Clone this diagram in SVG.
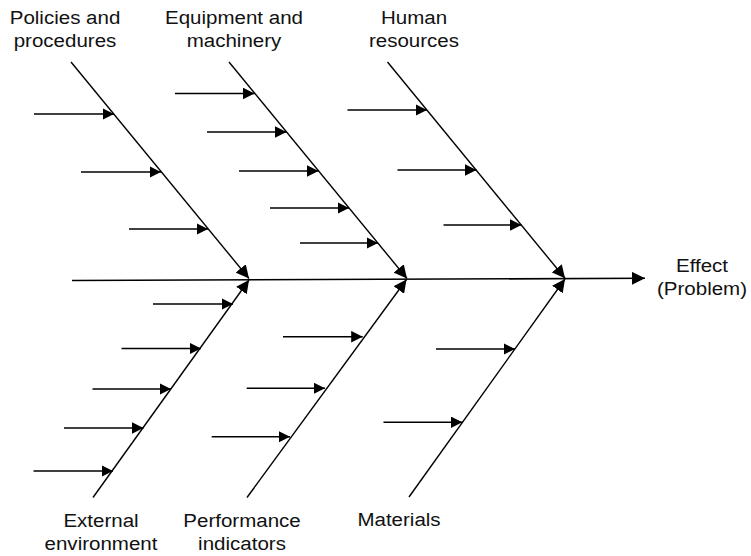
<svg xmlns="http://www.w3.org/2000/svg" width="751" height="556" viewBox="0 0 751 556">
  <style>
    .bone { stroke: #000; stroke-width: 1.4; fill: none; }
    .spine { stroke-width: 1.6; }
    .main { marker-end: url(#headL); }
    .sub { marker-end: url(#headS); }
    .label { font-family: "Liberation Sans", Arial, Helvetica, sans-serif; font-size: 19px; fill: #111; text-anchor: middle; }
  </style>
  <defs>
    <marker id="headL" markerUnits="userSpaceOnUse" markerWidth="14" markerHeight="13" refX="13" refY="6.5" orient="auto">
      <path d="M0,0 L13,6.5 L0,13 z" fill="#000"/>
    </marker>
    <marker id="headS" markerUnits="userSpaceOnUse" markerWidth="12" markerHeight="12" refX="11.5" refY="5.8" orient="auto">
      <path d="M0,0 L11.5,5.8 L0,11.6 z" fill="#000"/>
    </marker>
  </defs>
  <rect width="751" height="556" fill="#fff"/>

  <!-- spine and bones -->
  <g id="connectors">
    <line class="bone spine main" x1="72" y1="280.5" x2="645" y2="278.3"/>

    <!-- upper bones -->
    <line class="bone main" x1="71" y1="62" x2="249" y2="278.5"/>
    <line class="bone main" x1="229" y1="62" x2="407" y2="278.5"/>
    <line class="bone main" x1="387.5" y1="62" x2="565" y2="278.3"/>

    <!-- lower bones -->
    <line class="bone main" x1="93" y1="497.5" x2="249" y2="280"/>
    <line class="bone main" x1="247" y1="497.5" x2="406.5" y2="279.5"/>
    <line class="bone main" x1="409" y1="497" x2="565" y2="279"/>

    <!-- policies and procedures causes -->
    <line class="bone sub" x1="34" y1="114" x2="114" y2="114"/>
    <line class="bone sub" x1="81" y1="172" x2="161" y2="172"/>
    <line class="bone sub" x1="129" y1="229" x2="208" y2="229"/>

    <!-- equipment and machinery causes -->
    <line class="bone sub" x1="175" y1="93.5" x2="254.5" y2="93.5"/>
    <line class="bone sub" x1="207" y1="132" x2="286.5" y2="132"/>
    <line class="bone sub" x1="239" y1="171" x2="318.5" y2="171"/>
    <line class="bone sub" x1="270" y1="208" x2="349" y2="208"/>
    <line class="bone sub" x1="300" y1="243" x2="378" y2="243"/>

    <!-- human resources causes -->
    <line class="bone sub" x1="347.5" y1="110" x2="427" y2="110"/>
    <line class="bone sub" x1="397.5" y1="170" x2="476.5" y2="170"/>
    <line class="bone sub" x1="443.5" y1="225" x2="521.5" y2="225"/>

    <!-- external environment causes -->
    <line class="bone sub" x1="153" y1="304" x2="233" y2="304"/>
    <line class="bone sub" x1="121.5" y1="348.5" x2="201" y2="348.5"/>
    <line class="bone sub" x1="92.5" y1="389" x2="171" y2="389"/>
    <line class="bone sub" x1="64" y1="428" x2="143.5" y2="428"/>
    <line class="bone sub" x1="33.5" y1="471" x2="113" y2="471"/>

    <!-- performance indicators causes -->
    <line class="bone sub" x1="283" y1="336.7" x2="362.7" y2="336.7"/>
    <line class="bone sub" x1="246.7" y1="388.3" x2="325" y2="388.3"/>
    <line class="bone sub" x1="211.7" y1="436.7" x2="290" y2="436.7"/>

    <!-- materials causes -->
    <line class="bone sub" x1="436" y1="349" x2="515" y2="349"/>
    <line class="bone sub" x1="383.5" y1="422.3" x2="462.3" y2="422.3"/>
  </g>

  <!-- category labels -->
  <g id="policies">
    <text class="label" transform="translate(65,23.5) scale(1.08,1)"><tspan x="0" y="0">Policies and</tspan><tspan x="0" y="23.5">procedures</tspan></text>
  </g>
  <g id="equipment">
    <text class="label" transform="translate(234,23.5) scale(1.08,1)"><tspan x="0" y="0">Equipment and</tspan><tspan x="0" y="23.5">machinery</tspan></text>
  </g>
  <g id="human">
    <text class="label" transform="translate(414,23.5) scale(1.08,1)"><tspan x="0" y="0">Human</tspan><tspan x="0" y="23.5">resources</tspan></text>
  </g>
  <g id="external">
    <text class="label" transform="translate(101,527) scale(1.08,1)"><tspan x="0" y="0">External</tspan><tspan x="0" y="23.5">environment</tspan></text>
  </g>
  <g id="performance">
    <text class="label" transform="translate(242,527) scale(1.08,1)"><tspan x="0" y="0">Performance</tspan><tspan x="0" y="23.5">indicators</tspan></text>
  </g>
  <g id="materials">
    <text class="label" transform="translate(399,526) scale(1.08,1)">Materials</text>
  </g>
  <g id="effect">
    <text class="label" transform="translate(702,272) scale(1.08,1)"><tspan x="0" y="0">Effect</tspan><tspan x="0" y="23.5">(Problem)</tspan></text>
  </g>
</svg>
